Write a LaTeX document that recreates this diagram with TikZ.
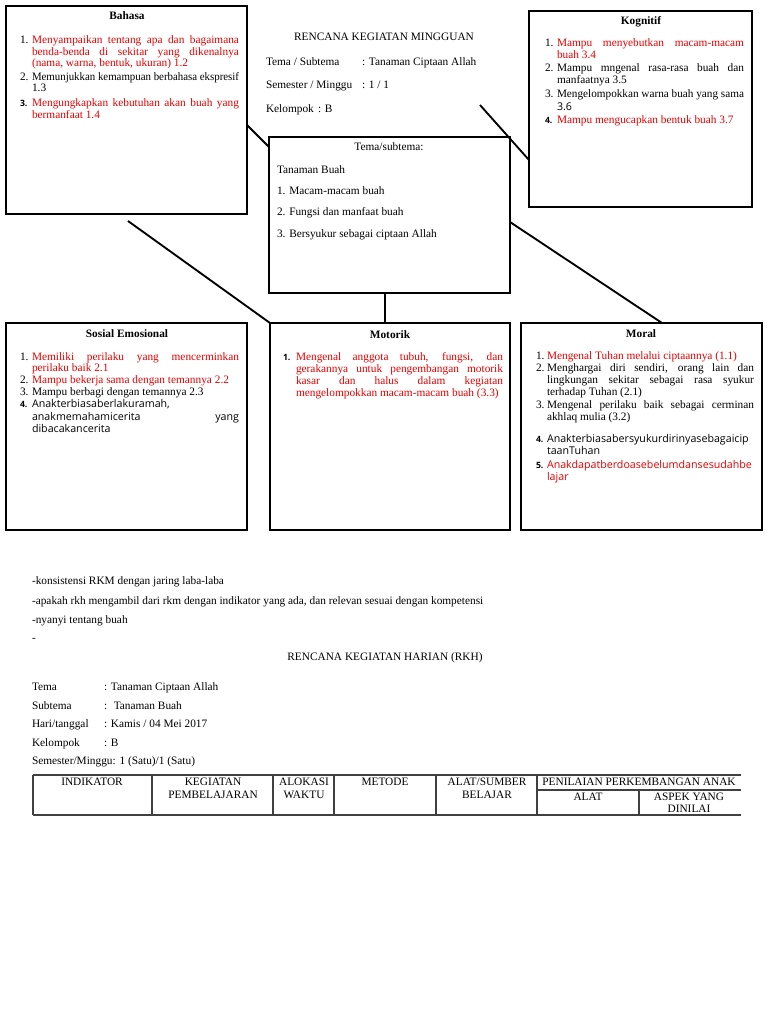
\documentclass[tikz,border=0pt]{standalone}
\usepackage{fontspec}
\usepackage{graphicx}
\setmainfont{Liberation Serif}
\newfontfamily\osans{Open Sans}
\usetikzlibrary{calc}
\definecolor{wred}{RGB}{230,0,0}
\newcommand\sz{\fontsize{8.5}{10}\selectfont}
\newcommand\ssz{\osans\fontsize{8}{10}\selectfont}
\newsavebox\jbox
\newcommand\jw[2]{\sbox\jbox{#2}\ifdim\wd\jbox>#1\relax\resizebox{#1}{\height}{\usebox\jbox}\else\makebox[#1][s]{#2}\fi}
\newcommand\wl{155.25pt}
\newcommand\kl{140.25pt}
\begin{document}
\begin{tikzpicture}[x=0.75pt,y=-0.75pt,
  boxst/.style={draw=black, line width=1.5pt, inner sep=0pt, outer sep=0pt},
  link/.style={draw=black, line width=1.4pt},
  txt/.style={inner sep=0pt, outer sep=0pt, font=\sz, anchor=base west},
  stxt/.style={inner sep=0pt, outer sep=0pt, font=\ssz, anchor=base west},
  snum/.style={inner sep=0pt, outer sep=0pt, font=\osans\fontsize{6.5}{8}\selectfont\bfseries, anchor=base west},
  ctxt/.style={inner sep=0pt, outer sep=0pt, font=\sz, anchor=base},
  ttl/.style={inner sep=0pt, outer sep=0pt, font=\sz\bfseries, anchor=base},
  rt/.style={text=wred},
  tline/.style={draw=black!75, line width=0.8pt}]
\fill[white] (0,0) rectangle (768,1024);
\useasboundingbox (0,0) rectangle (768,1024);

% boxes
\node[boxst, minimum width=180.75pt, minimum height=156pt] (bahasa) at (126.5,110) {};
\node[boxst, minimum width=180.75pt, minimum height=117pt] (tema) at (389.5,215) {};
\node[boxst, minimum width=167.25pt, minimum height=147pt] (kog) at (640.5,109) {};
\node[boxst, minimum width=180.75pt, minimum height=155.25pt] (sosial) at (126.5,426.5) {};
\node[boxst, minimum width=180pt, minimum height=155.25pt] (motorik) at (390,426.5) {};
\node[boxst, minimum width=180.75pt, minimum height=155.25pt] (moral) at (641.5,426.5) {};

% connectors
\coordinate (kfree) at (480,105);
\coordinate (bfree) at (128,221);
\draw[link] ($(bahasa.east)+(0,15)$) -- ($(tema.north west)+(0,10)$);
\draw[link] (kfree) -- ($(kog.west)+(0,51)$);
\draw[link] (bfree) -- (motorik.north west);
\draw[link] ($(tema.south)+(-4.5,0)$) -- ($(motorik.north)+(-5,0)$);
\draw[link] ($(tema.east)+(0,7)$) -- ($(moral.north)+(20.5,0)$);

% header
\node[ctxt] (h0) at (384,41) {RENCANA KEGIATAN MINGGUAN};
\node[txt] (h1) at (266,65) {Tema / Subtema};
\node[txt] (h1v) at (362,65) {: Tanaman Ciptaan Allah};
\node[txt] (h2) at (266,89) {Semester / Minggu};
\node[txt] (h2v) at (362,89) {: 1 / 1};
\node[txt] (h3) at (266,113) {Kelompok};
\node[txt] (h3v) at (318,113) {: B};

% tema box
\node[ctxt] (t0) at (389,150) {Tema/subtema:};
\node[txt] (t1) at (277,173) {Tanaman Buah};
\node[txt] (t2) at (277,194) {1. Macam-macam buah};
\node[txt] (t3) at (277,215) {2. Fungsi dan manfaat buah};
\node[txt] (t4) at (277,237) {3. Bersyukur sebagai ciptaan Allah};

% Bahasa
\node[ttl] (bt) at (127,20) {Bahasa};
\node[txt] (b1n) at (20,44) {1.};
\node[txt,rt] (b1a) at (32,44) {\jw{\wl}{Menyampaikan tentang apa dan bagaimana}};
\node[txt,rt] (b1b) at (32,56) {\jw{\wl}{benda-benda di sekitar yang dikenalnya}};
\node[txt,rt] (b1c) at (32,67) {(nama, warna, bentuk, ukuran) 1.2};
\node[txt] (b2n) at (20,80) {2.};
\node[txt] (b2a) at (32,80) {\jw{\wl}{Memunjukkan kemampuan berbahasa ekspresif}};
\node[txt] (b2b) at (32,92) {1.3};
\node[snum] (b3n) at (20,106) {3.};
\node[txt,rt] (b3a) at (32,106) {\jw{\wl}{Mengungkapkan kebutuhan akan buah yang}};
\node[txt,rt] (b3b) at (32,118) {bermanfaat 1.4};

% Kognitif
\node[ttl] (kt) at (641,25) {Kognitif};
\node[txt] (k1n) at (545,47) {1.};
\node[txt,rt] (k1a) at (557,47) {\jw{\kl}{Mampu menyebutkan macam-macam}};
\node[txt,rt] (k1b) at (557,59) {buah 3.4};
\node[txt] (k2n) at (545,72) {2.};
\node[txt] (k2a) at (557,72) {\jw{\kl}{Mampu mngenal rasa-rasa buah dan}};
\node[txt] (k2b) at (557,84) {manfaatnya 3.5};
\node[txt] (k3n) at (545,98) {3.};
\node[txt] (k3a) at (557,98) {\jw{\kl}{Mengelompokkan warna buah yang sama}};
\node[stxt] (k3b) at (557,110) {3.6};
\node[snum] (k4n) at (545,123) {4.};
\node[txt,rt] (k4a) at (557,123) {Mampu mengucapkan bentuk buah 3.7};

% Sosial Emosional
\node[ttl] (st) at (127,337) {Sosial Emosional};
\node[txt] (s1n) at (20,360) {1.};
\node[txt,rt] (s1a) at (32,360) {\jw{\wl}{Memiliki perilaku yang mencerminkan}};
\node[txt,rt] (s1b) at (32,371) {perilaku baik 2.1};
\node[txt] (s2n) at (20,383) {2.};
\node[txt,rt] (s2a) at (32,383) {Mampu bekerja sama dengan temannya 2.2};
\node[txt] (s3n) at (20,395) {3.};
\node[txt] (s3a) at (32,395) {Mampu berbagi dengan temannya 2.3};
\node[snum] (s4n) at (20,407) {4.};
\node[stxt] (s4a) at (32,407) {Anakterbiasaberlakuramah,};
\node[stxt] (s4b) at (32,420) {\jw{\wl}{anakmemahamicerita yang}};
\node[stxt] (s4c) at (32,432) {dibacakancerita};

% Motorik
\node[ttl] (mt) at (390,338) {Motorik};
\node[snum] (m1n) at (283,360) {1.};
\node[txt,rt] (m1a) at (296,360) {\jw{\wl}{Mengenal anggota tubuh, fungsi, dan}};
\node[txt,rt] (m1b) at (296,372) {\jw{\wl}{gerakannya untuk pengembangan motorik}};
\node[txt,rt] (m1c) at (296,384) {\jw{\wl}{kasar dan halus dalam kegiatan}};
\node[txt,rt] (m1d) at (296,396) {mengelompokkan macam-macam buah (3.3)};

% Moral
\node[ttl] (ot) at (641,337) {Moral};
\node[txt] (o1n) at (536,359) {1.};
\node[txt,rt] (o1a) at (547,359) {Mengenal Tuhan melalui ciptaannya (1.1)};
\node[txt] (o2n) at (536,371) {2.};
\node[txt] (o2a) at (547,371) {\jw{\wl}{Menghargai diri sendiri, orang lain dan}};
\node[txt] (o2b) at (547,383) {\jw{\wl}{lingkungan sekitar sebagai rasa syukur}};
\node[txt] (o2c) at (547,395) {terhadap Tuhan (2.1)};
\node[txt] (o3n) at (536,408) {3.};
\node[txt] (o3a) at (547,408) {\jw{\wl}{Mengenal perilaku baik sebagai cerminan}};
\node[txt] (o3b) at (547,420) {akhlaq mulia (3.2)};
\node[snum] (o4n) at (536,442) {4.};
\node[stxt] (o4a) at (547,442) {Anakterbiasabersyukurdirinyasebagaicip};
\node[stxt] (o4b) at (547,454) {taanTuhan};
\node[snum] (o5n) at (536,468) {5.};
\node[stxt,rt] (o5a) at (547,468) {Anakdapatberdoasebelumdansesudahbe};
\node[stxt,rt] (o5b) at (547,480) {lajar};

% notes
\node[txt] (n1) at (32,584) {-konsistensi RKM dengan jaring laba-laba};
\node[txt] (n2) at (32,604) {-apakah rkh mengambil dari rkm dengan indikator yang ada, dan relevan sesuai dengan kompetensi};
\node[txt] (n3) at (32,623) {-nyanyi tentang buah};
\node[txt] (n4) at (32,641) {-};

% RKH
\node[ctxt] (r0) at (385,660) {RENCANA KEGIATAN HARIAN (RKH)};
\node[txt] (r1) at (32,690) {Tema};
\node[txt] (r1v) at (104,690) {: Tanaman Ciptaan Allah};
\node[txt] (r2) at (32,709) {Subtema};
\node[txt] (r2v) at (104,709) {:~ Tanaman Buah};
\node[txt] (r3) at (32,727) {Hari/tanggal};
\node[txt] (r3v) at (104,727) {: Kamis / 04 Mei 2017};
\node[txt] (r4) at (32,746) {Kelompok};
\node[txt] (r4v) at (104,746) {: B};
\node[txt] (r5) at (32,764) {Semester/Minggu: 1 (Satu)/1 (Satu)};

% table
\draw[tline] (33,775) -- (741,775);
\draw[tline] (33,815) -- (741,815);
\draw[tline] (537,790) -- (741,790);
\foreach \xx in {33,152,273,334,436,537} \draw[tline] (\xx,775) -- (\xx,815);
\draw[tline] (639,790) -- (639,815);
\node[ctxt] (ti1) at (92,785) {INDIKATOR};
\node[ctxt] (ti2a) at (213,785) {KEGIATAN};
\node[ctxt] (ti2b) at (213,798) {PEMBELAJARAN};
\node[ctxt] (ti3a) at (304,785) {ALOKASI};
\node[ctxt] (ti3b) at (304,798) {WAKTU};
\node[ctxt] (ti4) at (385,785) {METODE};
\node[ctxt] (ti5a) at (487,785) {ALAT/SUMBER};
\node[ctxt] (ti5b) at (487,798) {BELAJAR};
\node[ctxt] (ti6) at (639,785) {PENILAIAN PERKEMBANGAN ANAK};
\node[ctxt] (ti7) at (588,800) {ALAT};
\node[ctxt] (ti8a) at (689,800) {ASPEK YANG};
\node[ctxt] (ti8b) at (689,812) {DINILAI};
\end{tikzpicture}
\end{document}
